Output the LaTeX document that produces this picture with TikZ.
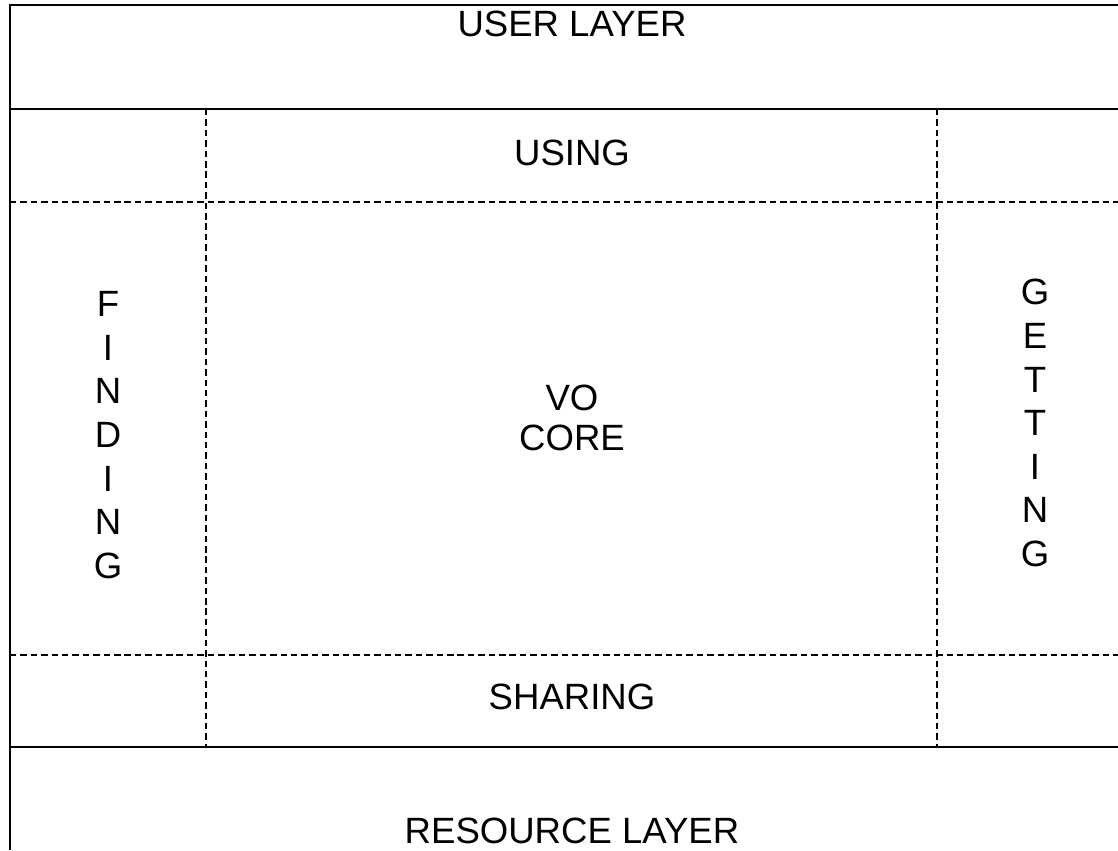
\documentclass[tikz,border=0pt]{standalone}
\usepackage{fontspec}
\setmainfont{Liberation Sans}
\begin{document}
\begin{tikzpicture}[x=0.025cm, y=-0.025cm,
    every node/.style={font=\fontsize{26}{31}\selectfont, align=center, inner sep=1pt},
    solidline/.style={line width=1.4pt},
    dashline/.style={line width=1.1pt, dash pattern=on 4.6pt off 2.8pt}]

        \useasboundingbox (0,0) rectangle (1118,850);

        % Grid
        \coordinate (tl) at (10,5);
        \coordinate (tr) at (1118,5);
        \coordinate (bl) at (10,850);
        \coordinate (ul) at (10,109);
        \coordinate (ur) at (1118,109);
        \coordinate (rl) at (10,747);
        \coordinate (rr) at (1118,747);
        \coordinate (ut) at (10,202);
        \coordinate (utr) at (1118,202);
        \coordinate (sb) at (10,655);
        \coordinate (sbr) at (1118,655);
        \coordinate (fa) at (206,109);
        \coordinate (fb) at (206,747);
        \coordinate (ga) at (937,109);
        \coordinate (gb) at (937,747);

        \draw[solidline] (bl) -- (tl) -- (tr);
        \draw[solidline] (ul) -- (ur);
        \draw[solidline] (rl) -- (rr);
        \draw[dashline] (ut) -- (utr);
        \draw[dashline] (sb) -- (sbr);
        \draw[dashline] (fa) -- (fb);
        \draw[dashline] (ga) -- (gb);

        % Layers
        \node (user) at (572,24) {USER LAYER};
        \node (using) at (572,153) {USING};
        \node[font=\fontsize{26}{29}\selectfont] (core) at (572,418) {VO\\CORE};
        \node (sharing) at (572,697) {SHARING};
        \node (resource) at (572,831) {RESOURCE LAYER};

        % Sides
        \node (finding) at (108,435) {F\\I\\N\\D\\I\\N\\G};
        \node (getting) at (1035,423) {G\\E\\T\\T\\I\\N\\G};

\end{tikzpicture}
\end{document}
